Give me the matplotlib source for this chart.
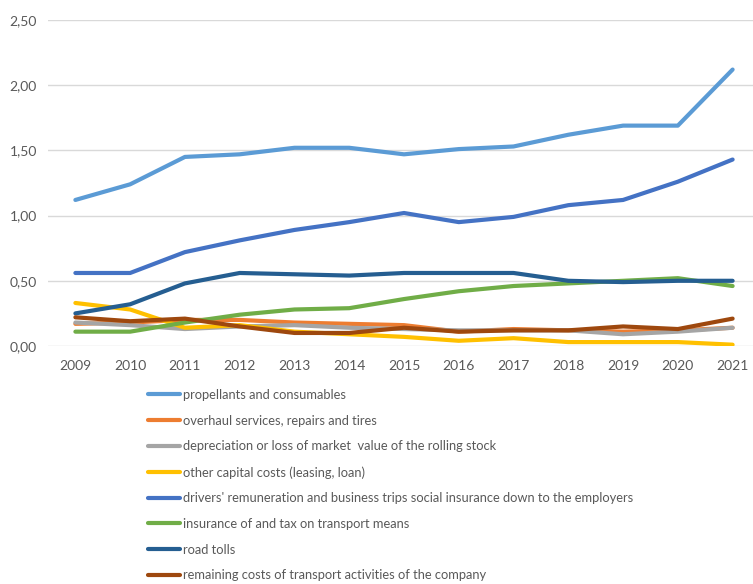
import matplotlib
matplotlib.use("Agg")
import matplotlib.pyplot as plt
from matplotlib.ticker import FuncFormatter, MultipleLocator

plt.rcParams['font.family'] = ['Lato', 'DejaVu Sans']

years = ["2009", "2010", "2011", "2012", "2013", "2014", "2015",
         "2016", "2017", "2018", "2019", "2020", "2021"]

propellants = [1.12, 1.24, 1.45, 1.47, 1.52, 1.52, 1.47, 1.51, 1.53, 1.62, 1.69, 1.69, 2.12]
overhaul = [0.17, 0.18, 0.20, 0.20, 0.18, 0.17, 0.16, 0.11, 0.13, 0.12, 0.11, 0.12, 0.14]
depreciation = [0.18, 0.16, 0.13, 0.15, 0.16, 0.14, 0.13, 0.12, 0.12, 0.12, 0.09, 0.11, 0.14]
capital = [0.33, 0.28, 0.14, 0.16, 0.11, 0.09, 0.07, 0.04, 0.06, 0.03, 0.03, 0.03, 0.01]
drivers = [0.56, 0.56, 0.72, 0.81, 0.89, 0.95, 1.02, 0.95, 0.99, 1.08, 1.12, 1.26, 1.43]
insurance = [0.11, 0.11, 0.18, 0.24, 0.28, 0.29, 0.36, 0.42, 0.46, 0.48, 0.50, 0.52, 0.46]
tolls = [0.25, 0.32, 0.48, 0.56, 0.55, 0.54, 0.56, 0.56, 0.56, 0.50, 0.49, 0.50, 0.50]
remaining = [0.22, 0.19, 0.21, 0.15, 0.10, 0.10, 0.14, 0.11, 0.12, 0.12, 0.15, 0.13, 0.21]

series = [
    ("propellants and consumables", propellants, "#5B9BD5"),
    ("overhaul services, repairs and tires", overhaul, "#ED7D31"),
    ("depreciation or loss of market  value of the rolling stock", depreciation, "#A5A5A5"),
    ("other capital costs (leasing, loan)", capital, "#FFC000"),
    ("drivers' remuneration and business trips social insurance down to the employers", drivers, "#4472C4"),
    ("insurance of and tax on transport means", insurance, "#70AD47"),
    ("road tolls", tolls, "#255E91"),
    ("remaining costs of transport activities of the company", remaining, "#9E480E"),
]

W, H = 753, 584
fig = plt.figure(figsize=(W / 100, H / 100), dpi=100)
left, right, top, bottom = 48, 760, 20, 346
ax = fig.add_axes([left / W, 1 - bottom / H, (right - left) / W, (bottom - top) / H])

x = list(range(len(years)))
for label, vals, color in series:
    ax.plot(x, vals, color=color, lw=3, label=label, solid_capstyle='round',
            solid_joinstyle='round')

ax.set_xlim(-0.5, len(years) - 0.5)
ax.set_ylim(0, 2.5)
ax.set_xticks(x)
ax.set_xticklabels(years)
ax.yaxis.set_major_locator(MultipleLocator(0.5))
ax.yaxis.set_major_formatter(FuncFormatter(lambda v, p: f"{v:.2f}".replace(".", ",")))
ax.grid(axis='y', color='#D9D9D9', lw=1)
ax.set_axisbelow(True)
for s in ax.spines.values():
    s.set_visible(False)
ax.tick_params(axis='both', length=0, labelsize=10, colors='#595959')
ax.tick_params(axis='x', pad=10)
ax.tick_params(axis='y', pad=8)

handles, labels = ax.get_legend_handles_labels()
leg = fig.legend(handles, labels, loc='upper left',
                 bbox_to_anchor=(148 / W, 1 - 389 / H), frameon=False,
                 fontsize=9.3, handlelength=2.47, handletextpad=0.24,
                 labelspacing=1.06, borderaxespad=0, borderpad=0)
for t in leg.get_texts():
    t.set_color('#595959')

fig.savefig("out.png", dpi=100)
